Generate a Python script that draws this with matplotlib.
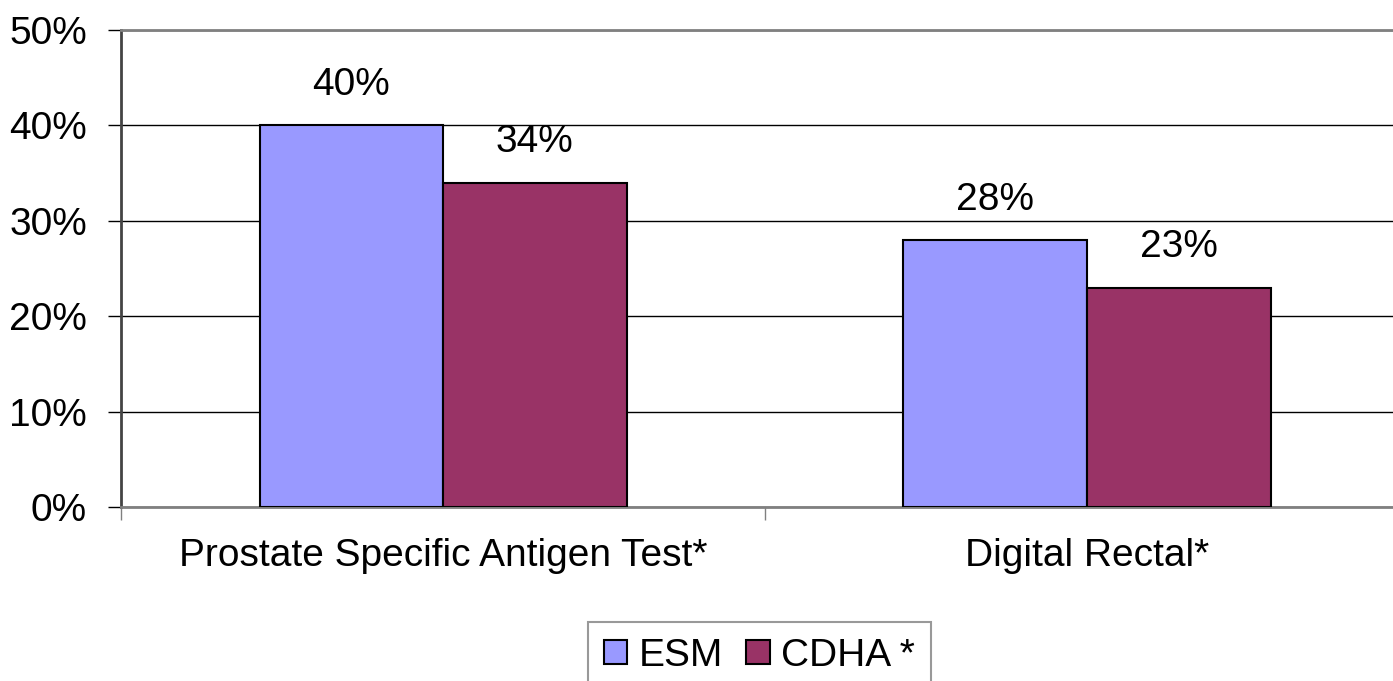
import numpy as np
import matplotlib
matplotlib.use("Agg")
import matplotlib.pyplot as plt
from matplotlib.patches import Patch

plt.rcParams["font.family"] = ["Liberation Sans", "DejaVu Sans"]

categories = ["Prostate Specific Antigen Test*", "Digital Rectal*"]
series_names = ["ESM", "CDHA *"]
esm_values = [40, 28]
cdha_values = [34, 23]
colors = ["#9999ff", "#993366"]

fig = plt.figure(figsize=(13.93, 6.81), dpi=100)
ax = fig.add_axes([0.0869, 0.2555, 0.9246, 0.7004])

x = np.arange(len(categories))
w = 0.285
bars1 = ax.bar(x - w / 2, esm_values, w, color=colors[0], edgecolor="black", linewidth=1.5, zorder=3)
bars2 = ax.bar(x + w / 2, cdha_values, w, color=colors[1], edgecolor="black", linewidth=1.5, zorder=3)

for bars, vals in [(bars1, esm_values), (bars2, cdha_values)]:
    for b, v in zip(bars, vals):
        ax.annotate(f"{v}%", (b.get_x() + b.get_width() / 2, v), xytext=(0, 16),
                    textcoords="offset points", ha="center", va="bottom", fontsize=28)

ax.set_xlim(-0.5, 1.5)
ax.set_ylim(0, 50)
ax.set_yticks(range(0, 51, 10))
ax.set_yticklabels([f"{t}%" for t in range(0, 51, 10)], fontsize=28)
ax.yaxis.grid(True, color="black", linewidth=1)
ax.set_axisbelow(True)

ax.set_xticks(x)
ax.set_xticklabels(categories, fontsize=28)
ax.tick_params(axis="x", length=0, pad=22)
ax.set_xticks([-0.5, 0.5, 1.5], minor=True)
ax.tick_params(axis="x", which="minor", length=9, width=1, color="gray")
ax.tick_params(axis="y", length=9.5, width=1, pad=15)

for s in ["top", "right", "bottom"]:
    ax.spines[s].set_color("gray")
    ax.spines[s].set_linewidth(2)
ax.spines["left"].set_color("#444444")
ax.spines["left"].set_linewidth(2)

handles = [Patch(facecolor=c, edgecolor="black", linewidth=1.5) for c in colors]
leg = fig.legend(handles, series_names, loc="upper center", bbox_to_anchor=(0.5452, 0.0866),
                 ncol=2, fontsize=28, frameon=True, fancybox=False, handlelength=0.6,
                 handleheight=0.6, handletextpad=0.3, columnspacing=0.6, borderpad=0.4,
                 borderaxespad=0)
leg.get_frame().set_edgecolor("gray")
leg.get_frame().set_linewidth(1.5)

fig.savefig("out.png", dpi=100)
